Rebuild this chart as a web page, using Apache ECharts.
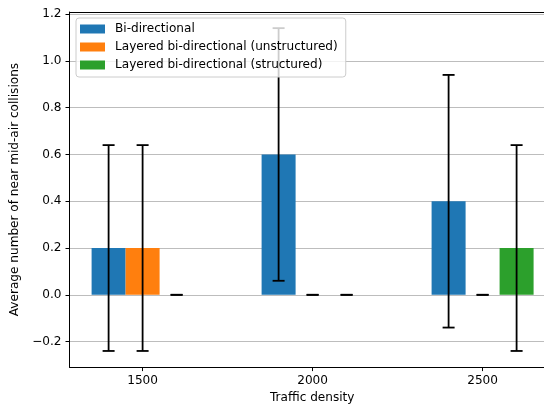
<!DOCTYPE html>
<html>
<head>
<meta charset="utf-8">
<script src="https://cdn.jsdelivr.net/npm/echarts@6/dist/echarts.min.js"></script>
<style>html,body{margin:0;padding:0;background:#fff}#c{width:544px;height:409px}</style>
</head>
<body>
<div id="c"></div>
<script>
const trafficDensity = [1500, 2000, 2500];
const seriesNames = ['Bi-directional', 'Layered bi-directional (unstructured)', 'Layered bi-directional (structured)'];
const biDirectional = [0.2, 0.6, 0.4];
const biDirectionalErr = [0.44, 0.54, 0.54];
const unstructured = [0.2, 0.0, 0.0];
const unstructuredErr = [0.44, 0.0, 0.0];
const structured = [0.0, 0.0, 0.2];
const structuredErr = [0.0, 0.0, 0.44];
const xTicks = [1500, 2000, 2500];
const yTicks = [-0.2, 0.0, 0.2, 0.4, 0.6, 0.8, 1.0, 1.2];

const colors = ['#1f77b4', '#ff7f0e', '#2ca02c'];
const BAR_W = 100;
const offsets = [-BAR_W, 0, BAR_W];
const values = [biDirectional, unstructured, structured];
const errs = [biDirectionalErr, unstructuredErr, structuredErr];
const FONT = 'DejaVu Sans';
const FS = 12.1;
const X_MIN = 1285, X_MAX = 2680.6;

function renderBar(params, api) {
  const x = api.value(0), y = api.value(1), e = api.value(2);
  const p0 = api.coord([x - BAR_W / 2, 0]);
  const p1 = api.coord([x + BAR_W / 2, y]);
  const top = api.coord([x, y + e]);
  const bot = api.coord([x, y - e]);
  const cap = 6;
  const children = [];
  if (y !== 0) {
    children.push({
      type: 'rect',
      shape: { x: p0[0], y: Math.min(p0[1], p1[1]), width: p1[0] - p0[0], height: Math.abs(p1[1] - p0[1]) },
      style: { fill: api.visual('color') }
    });
  }
  const ls = { stroke: '#000', lineWidth: 1.8 };
  children.push({ type: 'line', shape: { x1: top[0], y1: top[1], x2: bot[0], y2: bot[1] }, style: ls });
  children.push({ type: 'line', shape: { x1: top[0] - cap, y1: top[1], x2: top[0] + cap, y2: top[1] }, style: ls });
  children.push({ type: 'line', shape: { x1: bot[0] - cap, y1: bot[1], x2: bot[0] + cap, y2: bot[1] }, style: ls });
  return { type: 'group', children };
}

const series = seriesNames.map((name, si) => ({
  name,
  type: 'custom',
  xAxisIndex: 0,
  renderItem: renderBar,
  itemStyle: { color: colors[si] },
  encode: { x: 0, y: 1 },
  data: trafficDensity.map((t, i) => [t + offsets[si], values[si][i], errs[si][i]])
}));

const chart = echarts.init(document.getElementById('c'), null, { renderer: 'canvas' });
chart.setOption({
  animation: false,
  textStyle: { fontFamily: FONT },
  grid: { left: 69.5, right: 0, top: 12, bottom: 39, show: false, containLabel: false },
  legend: {
    orient: 'vertical',
    left: 76, top: 18,
    data: seriesNames.map(n => ({ name: n, icon: 'rect' })),
    itemWidth: 25, itemHeight: 9, itemGap: 4,
    padding: [4, 8, 5, 4],
    backgroundColor: 'rgba(255,255,255,0.8)',
    borderColor: '#cccccc', borderWidth: 1, borderRadius: 3,
    textStyle: { fontFamily: FONT, fontSize: FS, color: '#000', lineHeight: 14, padding: [0, 0, 0, 5] }
  },
  xAxis: [{
    type: 'value', min: X_MIN, max: X_MAX, position: 'bottom',
    name: 'Traffic density', nameLocation: 'middle', nameGap: 24,
    nameTextStyle: { fontFamily: FONT, fontSize: FS, color: '#000', padding: [0, 0, 0, 11] },
    axisLine: { onZero: false, lineStyle: { color: '#000', width: 1 } },
    axisTick: { show: true, length: 4, lineStyle: { color: '#000' }, customValues: xTicks },
    axisLabel: { fontFamily: FONT, fontSize: FS, color: '#000', margin: 8, customValues: xTicks,
      formatter: v => String(v) },
    splitLine: { show: false }
  }, {
    type: 'value', min: X_MIN, max: X_MAX, position: 'top',
    axisLine: { show: true, onZero: false, lineStyle: { color: '#000', width: 1 } },
    axisTick: { show: false }, axisLabel: { show: false }, splitLine: { show: false }
  }],
  yAxis: {
    type: 'value', min: -0.309, max: 1.209,
    name: 'Average number of near mid-air collisions', nameLocation: 'middle', nameGap: 42,
    nameTextStyle: { fontFamily: FONT, fontSize: FS, color: '#000' },
    axisLine: { show: true, onZero: false, lineStyle: { color: '#000', width: 1 } },
    axisTick: { show: true, length: 4, lineStyle: { color: '#000' }, customValues: yTicks },
    axisLabel: { fontFamily: FONT, fontSize: FS, color: '#000', margin: 8, customValues: yTicks,
      formatter: v => (v < 0 ? '\u2212' : '') + Math.abs(v).toFixed(1) },
    splitLine: { show: true, lineStyle: { color: '#bdbdbd', width: 1 } }
  },
  series
});
</script>
</body>
</html>
